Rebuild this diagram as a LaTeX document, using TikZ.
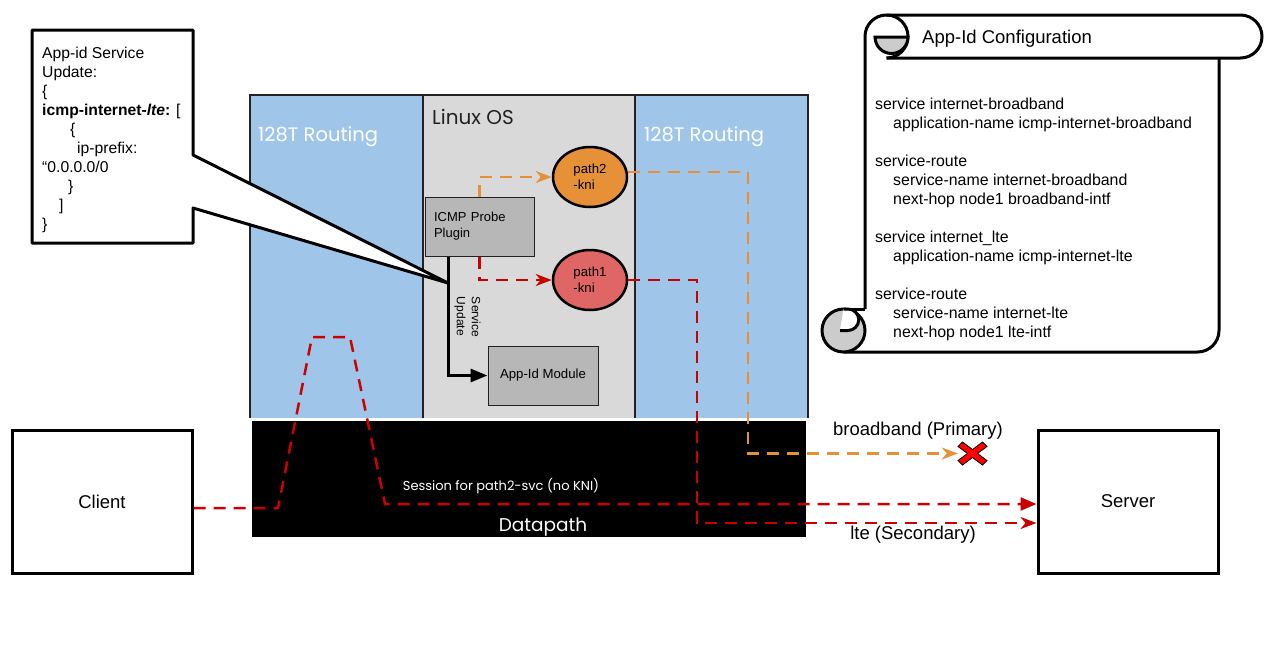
\documentclass[tikz,border=0pt]{standalone}
\usepackage{fontspec}
\setmainfont{Liberation Sans}
\newfontfamily\popfont{Poppins}
\usetikzlibrary{shapes.geometric,arrows.meta,calc}
\definecolor{panelblue}{HTML}{9FC5E8}
\definecolor{linuxgrey}{HTML}{D9D9D9}
\definecolor{boxgrey}{HTML}{B7B7B7}
\definecolor{kniorange}{HTML}{E69138}
\definecolor{knired}{HTML}{E06666}
\definecolor{linered}{HTML}{CC0000}
\definecolor{scrollgrey}{HTML}{CCCCCC}
\definecolor{edgegrey}{HTML}{222222}
\newcommand{\myfs}[2]{\fontsize{#1}{#2}\selectfont}
\begin{document}
\begin{tikzpicture}[x=1pt,y=-1pt,
  outerbox/.style={draw=black, line width=3pt, fill=white, inner sep=0pt},
  greybox/.style={draw=edgegrey, line width=1pt, fill=boxgrey, inner sep=0pt},
  kni/.style={ellipse, draw=black, line width=2.5pt, minimum width=74pt, minimum height=60pt, inner sep=0pt, align=left, font=\myfs{13.2}{16}},
  orangeflow/.style={draw=kniorange, line width=2.5pt, dash pattern=on 12pt off 8pt},
  redflow/.style={draw=linered, line width=2.5pt, dash pattern=on 12pt off 8pt},
  dashtip/.style={-{Stealth[length=16pt,width=12pt,inset=5pt]}},
  blocktip/.style={-{Triangle[length=16pt,width=13pt]}},
  scrollline/.style={draw=black, line width=3pt},
  paneltext/.style={font=\popfont\myfs{19.5}{22}, text=white, inner sep=0pt, anchor=west},
  lbl/.style={font=\myfs{18.5}{22}, inner sep=0pt}
]
\useasboundingbox (0,0) rectangle (1283,665);
\fill[white] (0,0) rectangle (1283,665);

% router panels
\fill[panelblue] (250,95) rectangle (423,418);
\fill[linuxgrey] (423,95) rectangle (635,418);
\fill[panelblue] (635,95) rectangle (808,418);
\draw[edgegrey, line width=2.8pt] (250,418) -- (250,95) -- (808,95) -- (808,418);
\draw[edgegrey, line width=2.8pt] (423,95) -- (423,418);
\draw[edgegrey, line width=2.8pt] (635,95) -- (635,418);
\node[paneltext] (rtleft) at (258,137) {128T Routing};
\node[paneltext] (rtright) at (644,137) {128T Routing};
\node[paneltext, text=edgegrey, font=\popfont\myfs{20}{22}] (linux) at (432,117) {Linux OS};

% datapath
\fill[black] (252,421) rectangle (806,537);
\node[font=\popfont\myfs{18.5}{20}, text=white, inner sep=0pt] (dp) at (543,527) {Datapath};
\node[font=\popfont\myfs{13}{15}, text=white, inner sep=0pt] (sess) at (501,486) {Session for path2-svc (no KNI)};

% callout
\draw[line width=3pt, fill=white, line join=round] (32,30) -- (193,30) -- (193,155) -- (448,283) -- (193,208) -- (193,243) -- (32,243) -- cycle;
\node[anchor=north west, align=left, inner sep=0pt, font=\myfs{15.7}{19}] (callout) at (42,46.5) {App-id Service\\
Update:\\
\{\\
\textbf{icmp-internet-\textit{lte}:} [\\
\hspace*{28pt}\{\\
\hspace*{35pt}ip-prefix:\\
“0.0.0.0/0\\
\hspace*{26pt}\}\\
\hspace*{17pt}]\\
\}};

% linux boxes
\node[greybox, minimum width=109pt, minimum height=59pt, text width=91pt, inner xsep=9pt, align=left, font=\myfs{13}{16}] (icmp) at (479.5,226.5) {ICMP Probe\\Plugin};
\node[greybox, minimum width=110pt, minimum height=59pt, font=\myfs{13.2}{16}] (appid) at (543,375.5) {App-Id Module};
\node[kni, fill=kniorange] (path2) at (590,177) {path2\\-kni};
\node[kni, fill=knired] (path1) at (590,280) {path1\\-kni};

% client / server
\node[outerbox, minimum width=180pt, minimum height=143pt, font=\myfs{18.5}{22}] (client) at (102,501.5) {Client};
\node[outerbox, minimum width=180pt, minimum height=143pt, font=\myfs{18.5}{22}] (server) at (1128,501.5) {Server};

% X mark
\node[minimum width=29pt, minimum height=23pt, inner sep=0pt] (xmark) at (972.5,453.5) {};
\begin{scope}[shift={(xmark.center)}]
\draw[fill=red, draw=black, line width=0.8pt, line join=miter]
  (-14.5,-7) -- (-10,-11.5) -- (0,-4) -- (10,-11.5) -- (14.5,-7) -- (5,0) -- (14.5,7) -- (10,11.5) -- (0,4) -- (-10,11.5) -- (-14.5,7) -- (-5,0) -- cycle;
\end{scope}

% coordinates
\coordinate (obend) at (748,453.5);
\coordinate (rbend) at (697,523);
\coordinate (t1) at (278,508);
\coordinate (t2) at (312,337);
\coordinate (t3) at (350,337);
\coordinate (t4) at (385,504);

% connectors
\draw[orangeflow, dashtip] (icmp.north) |- (path2.west);
\draw[redflow, dashtip] (icmp.south) |- (path1.west);
\draw[line width=3pt, -{Triangle[length=17pt,width=13pt]}] ([xshift=-31.5pt]icmp.south) |- (appid.west);
\node[rotate=-90, align=left, inner sep=0pt, font=\myfs{12}{15}] (svcupd) at (467.5,317) {Service\\Update};
\draw[orangeflow, dashtip] ([yshift=5pt]path2.east) -| (obend) -- (xmark.west);
\draw[redflow, dashtip] (path1.east) -| (rbend) -- (rbend -| server.west);
\draw[redflow, blocktip] (client.east |- t1) -- (t1) -- (t2) -- (t3) -- (t4) -- (t4 -| server.west);

\node[lbl] (bbl) at (918,431) {broadband (Primary)};
\node[lbl] (ltel) at (913,535) {lte (Secondary)};

% scroll
\fill[white] (865,36.5) rectangle (1219,352);
\fill[white] (886.5,15) rectangle (1240.5,58);
\draw[scrollline] (865,309) -- (865,36.5) arc[start angle=180,end angle=270,radius=21.5] -- (1240.5,15) arc[start angle=270,end angle=450,radius=21.5] -- (886.5,58);
\draw[scrollline] (886.5,15) arc[start angle=270,end angle=450,radius=21.5];
\draw[scrollline, fill=scrollgrey] (875,37) -- (908,37) arc[start angle=0,end angle=180,radius=16.5] -- cycle;
\draw[scrollline] (1219,58) -- (1219,330.5) arc[start angle=0,end angle=90,radius=21.5] -- (843.5,352);
\draw[scrollline, fill=scrollgrey] (843.5,330.5) circle[radius=21.5];
\draw[scrollline] (843.5,309) -- (865,309);
\draw[scrollline, fill=white] (840,330.5) -- (848,330.5) arc[start angle=90,end angle=-90,radius=10.75] -- (843.5,309);
\node[anchor=west, inner sep=0pt, font=\myfs{18.5}{22}] (scrolltitle) at (922,39) {App-Id Configuration};
\node[anchor=north west, align=left, inner sep=0pt, font=\myfs{15.9}{19}] (conf) at (875,97.3) {service internet-broadband\\
\hspace*{18pt}application-name icmp-internet-broadband\\[19pt]
service-route\\
\hspace*{18pt}service-name internet-broadband\\
\hspace*{18pt}next-hop node1 broadband-intf\\[19pt]
service internet\_lte\\
\hspace*{18pt}application-name icmp-internet-lte\\[19pt]
service-route\\
\hspace*{18pt}service-name internet-lte\\
\hspace*{18pt}next-hop node1 lte-intf};
\end{tikzpicture}
\end{document}
